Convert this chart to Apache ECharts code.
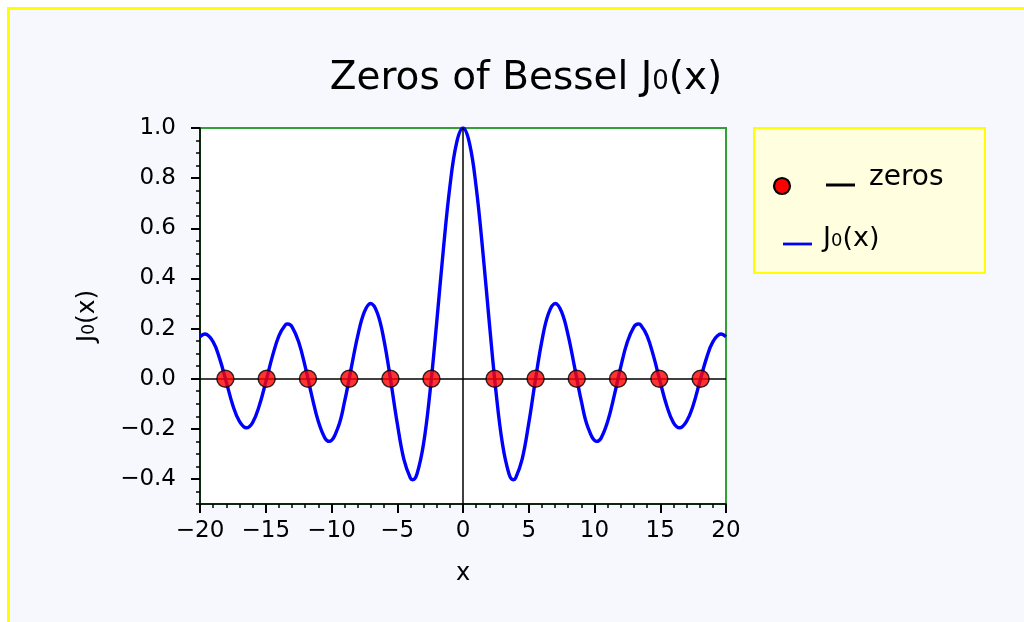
<!DOCTYPE html>
<html>
<head>
<meta charset="utf-8">
<script src="https://cdn.jsdelivr.net/npm/echarts@6/dist/echarts.min.js"></script>
<style>
  html, body { margin: 0; padding: 0; background: #ffffff; width: 1024px; height: 622px; overflow: hidden; }
  #bg { position: absolute; left: 7px; top: 7px; width: 1100px; height: 700px; border-left: 3px solid #ffff00; border-top: 3px solid #ffff00; background: #f7f8fd; }
  #chart { position: absolute; left: 0; top: 0; width: 1024px; height: 622px; }
</style>
</head>
<body>
<div id="bg"></div>
<div id="chart"></div>
<script>
// x samples of the curve
const xValues = [-20, -19.62, -19, -18.5, -18, -17.5, -17, -16.47, -16, -15.5, -15, -14.5, -14, -13.5, -13.32, -13, -12.5, -12, -11.5, -11, -10.5, -10.17, -9.5, -9, -8.5, -8, -7.5, -7.02, -6.5, -6, -5.5, -5, -4.5, -4, -3.83, -3.5, -3, -2.5, -2, -1.5, -1, -0.5,
  0, 0.5, 1, 1.5, 2, 2.5, 3, 3.5, 3.83, 4, 4.5, 5, 5.5, 6, 6.5, 7.02, 7.5, 8, 8.5, 9, 9.5, 10.17, 10.5, 11, 11.5, 12, 12.5, 13, 13.32, 13.5, 14, 14.5, 15, 15.5, 16, 16.47, 17, 17.5, 18, 18.5, 19, 19.62, 20];
// J0(x) values at those samples
const jValues = [0.167, 0.178, 0.147, 0.079, -0.013, -0.107, -0.170, -0.196, -0.175, -0.109, -0.014, 0.088, 0.171, 0.215, 0.218, 0.207, 0.147, 0.048, -0.068, -0.171, -0.237, -0.250, -0.194, -0.090, 0.042, 0.172, 0.266, 0.300, 0.260, 0.151, -0.007, -0.178, -0.321, -0.397, -0.403, -0.380, -0.260, -0.048, 0.224, 0.512, 0.765, 0.938,
  1.000, 0.938, 0.765, 0.512, 0.224, -0.048, -0.260, -0.380, -0.403, -0.397, -0.321, -0.178, -0.007, 0.151, 0.260, 0.300, 0.266, 0.172, 0.042, -0.090, -0.194, -0.250, -0.237, -0.171, -0.068, 0.048, 0.147, 0.207, 0.218, 0.215, 0.171, 0.088, -0.014, -0.109, -0.175, -0.196, -0.170, -0.107, -0.013, 0.079, 0.147, 0.178, 0.167];
// zeros of J0
const zeroX = [-18.07, -14.93, -11.79, -8.65, -5.52, -2.40, 2.40, 5.52, 8.65, 11.79, 14.93, 18.07];
const zeroY = [0, 0, 0, 0, 0, 0, 0, 0, 0, 0, 0, 0];
// tick labels
const yTickValues = [-0.4, -0.2, 0.0, 0.2, 0.4, 0.6, 0.8, 1.0];

const FONT = 'DejaVu Sans';
const minus = s => String(s).replace('-', '\u2212');

const curve = xValues.map((x, i) => [x, jValues[i]]);
const zeros = zeroX.map((x, i) => [x, zeroY[i]]);

const subRich = (big, small, lh) => ({
  a: { fontFamily: FONT, fontSize: big, fontWeight: 'normal', color: '#000', lineHeight: lh, verticalAlign: 'bottom' },
  s: { fontFamily: FONT, fontSize: small, fontWeight: 'normal', color: '#000', lineHeight: lh, verticalAlign: 'bottom', padding: [0, 0, Math.round(big * 0.08), 0] }
});

const chart = echarts.init(document.getElementById('chart'), null, { renderer: 'canvas' });
chart.setOption({
  backgroundColor: 'transparent',
  animation: false,
  title: {
    text: '{a|Zeros of Bessel J}{s|0}{a|(x)}',
    left: 521,
    top: 47,
    textAlign: 'center',
    textStyle: { fontWeight: 'normal', rich: subRich(39, 26, 46) }
  },
  grid: {
    left: 200, top: 128, width: 526, height: 376,
    show: true, backgroundColor: '#ffffff', borderColor: '#33a033', borderWidth: 2
  },
  xAxis: {
    type: 'value', min: -20, max: 20, interval: 5,
    name: 'x', nameLocation: 'middle', nameGap: 58,
    nameTextStyle: { fontFamily: FONT, fontSize: 24, color: '#000' },
    axisLine: { show: true, onZero: false, lineStyle: { color: '#000', width: 1.5 } },
    axisTick: { show: true, inside: false, length: 9, lineStyle: { color: '#000', width: 2 } },
    minorTick: { show: true, splitNumber: 5, length: 4, lineStyle: { color: '#000', width: 1.5 } },
    axisLabel: { margin: 27, fontFamily: FONT, fontSize: 23, color: '#000', verticalAlign: 'middle', formatter: v => minus(v) },
    splitLine: { show: false }
  },
  yAxis: [{
    type: 'value', min: -0.5, max: 1.0, interval: 0.05,
    axisLine: { show: true, onZero: false, lineStyle: { color: '#000', width: 1.5 } },
    axisTick: { show: true, inside: false, length: 4, lineStyle: { color: '#000', width: 1.5 } },
    axisLabel: { show: false },
    splitLine: { show: false }
  }, {
    type: 'value', min: -0.5, max: 1.0, position: 'left',
    name: '{a|J}{s|0}{a|(x)}', nameLocation: 'middle', nameGap: 100, nameRotate: 90,
    nameTextStyle: { rich: subRich(25, 17, 30) },
    axisLine: { show: false, onZero: false },
    axisTick: { show: true, inside: false, length: 9, customValues: yTickValues, lineStyle: { color: '#000', width: 2 } },
    axisLabel: { margin: 24, fontFamily: FONT, fontSize: 23, color: '#000', customValues: yTickValues,
      formatter: v => minus(v.toFixed(1)) },
    splitLine: { show: false }
  }],
  series: [{
    type: 'line', name: 'J0(x)', data: curve, yAxisIndex: 0,
    smooth: 0.4, showSymbol: false, symbol: 'none',
    lineStyle: { color: '#0000ff', width: 3.4 },
    markLine: {
      silent: true, symbol: 'none', label: { show: false },
      lineStyle: { color: '#000', width: 1.5, type: 'solid' },
      data: [{ xAxis: 0 }, { yAxis: 0 }]
    },
    z: 3
  }, {
    type: 'scatter', name: 'zeros', data: zeros, yAxisIndex: 0,
    symbol: 'circle', symbolSize: 17,
    itemStyle: { color: '#ff0000', borderColor: '#000', borderWidth: 1.5 },
    z: 5
  }],
  graphic: [
    { type: 'rect', shape: { x: 754, y: 128, width: 231, height: 145 },
      style: { fill: '#ffffe0', stroke: '#ffff00', lineWidth: 2 } },
    { type: 'circle', shape: { cx: 782, cy: 186, r: 8 },
      style: { fill: '#ff0000', stroke: '#000', lineWidth: 2.2 } },
    { type: 'line', shape: { x1: 826, y1: 185, x2: 855, y2: 185 },
      style: { stroke: '#000', lineWidth: 3 } },
    { type: 'text', x: 869, y: 178,
      style: { text: 'zeros', font: '28px "DejaVu Sans"', fill: '#000', textVerticalAlign: 'middle' } },
    { type: 'line', shape: { x1: 783, y1: 244, x2: 812, y2: 244 },
      style: { stroke: '#0000ff', lineWidth: 2.8 } },
    { type: 'text', x: 823, y: 236,
      style: { text: '{a|J}{s|0}{a|(x)}', fill: '#000', textVerticalAlign: 'middle', rich: subRich(27, 18, 32) } }
  ]
});
</script>
</body>
</html>
